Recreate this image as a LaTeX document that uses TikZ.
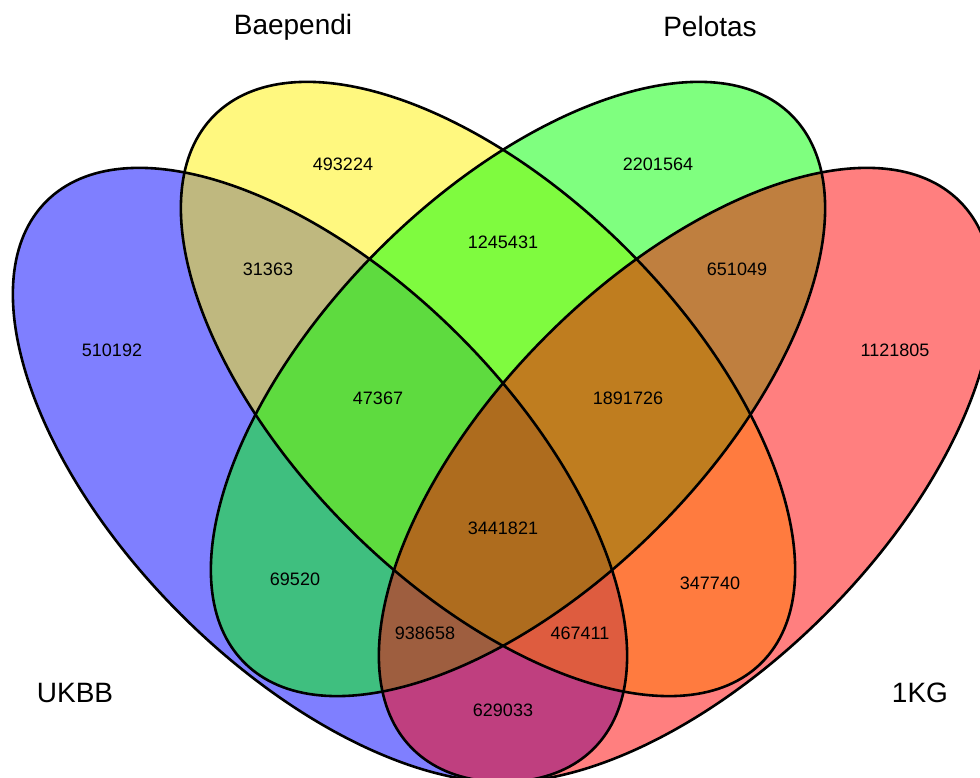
\documentclass[tikz,border=0pt]{standalone}
\usepackage{fontspec}
\setmainfont{Liberation Sans}
\begin{document}
\begin{tikzpicture}[x=1pt,y=1pt,
    setline/.style={line width=2.6pt},
    count/.style={font=\fontsize{18}{18}\selectfont},
    setname/.style={font=\fontsize{28}{28}\selectfont}]
\useasboundingbox (0,0) rectangle (980,778);

\begin{scope}
\clip (0,0) rectangle (980,778);
% fills, half transparent, in drawing order
\foreach \cx/\cy/\r/\col in {320/303/-45/blue,488/389/-45/yellow,518/389/45/green,686/303/45/red} {
    \fill[\col,fill opacity=0.5] (\cx,\cy) ellipse [x radius=387, y radius=197, rotate=\r];
}
% outlines
\foreach \cx/\cy/\r in {320/303/-45,488/389/-45,518/389/45,686/303/45} {
    \draw[setline] (\cx,\cy) ellipse [x radius=387, y radius=197, rotate=\r];
}
\end{scope}

\node[setname] (ukbb) at (75,85) {UKBB};
\node[setname] (baependi) at (293,751) {Baependi};
\node[setname] (pelotas) at (710,751) {Pelotas};
\node[setname] (okg) at (920,85) {1KG};

\foreach \x/\y/\t in {343/614/493224,658/614/2201564,268/509/31363,503/536/1245431,
    737/509/651049,112/428/510192,895/428/1121805,378/380/47367,628/380/1891726,
    503/250/3441821,295/199/69520,710/195/347740,425/145/938658,580/145/467411,503/68/629033} {
    \node[count] (n\t) at (\x,\y) {\t};
}
\end{tikzpicture}
\end{document}
